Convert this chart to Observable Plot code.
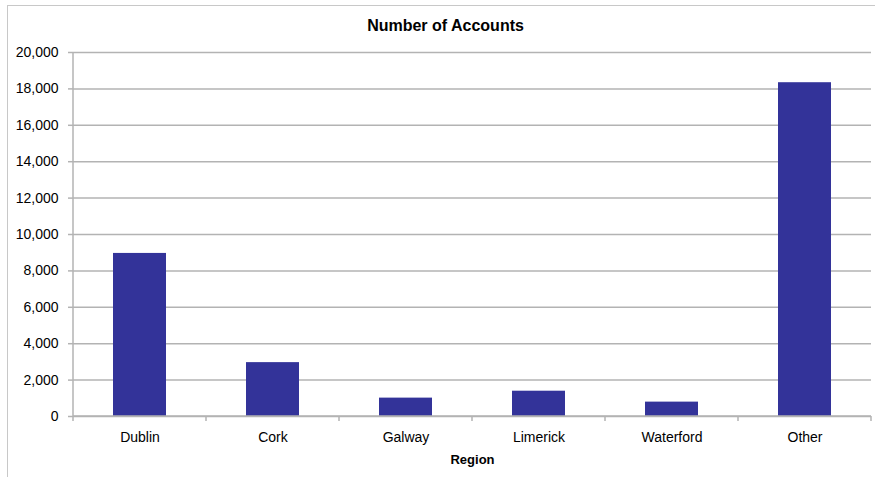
<!DOCTYPE html>
<html>
<head>
<meta charset="utf-8">
<script src="https://cdn.jsdelivr.net/npm/d3@7"></script>
<script src="https://cdn.jsdelivr.net/npm/@observablehq/plot@0.6"></script>
<style>
  html, body { margin: 0; padding: 0; background: #fff; }
  #wrap { position: relative; width: 875px; height: 477px; overflow: hidden; }
  #border { position: absolute; left: 7px; top: 5px; width: 900px; height: 520px; border-left: 1.5px solid #c8c8c8; border-top: 1.5px solid #c8c8c8; }
  #chart { position: absolute; left: 0; top: 0; }
</style>
</head>
<body>
<div id="wrap"><div id="border"></div><div id="chart"></div></div>
<script>
const title = "Number of Accounts";
const xLabel = "Region";
const regions = ["Dublin", "Cork", "Galway", "Limerick", "Waterford", "Other"];
const accounts = [8960, 2960, 1010, 1390, 790, 18340];
const yTicks = [0, 2000, 4000, 6000, 8000, 10000, 12000, 14000, 16000, 18000, 20000];

const data = regions.map((r, i) => ({region: r, value: accounts[i]}));
const fontFamily = "'Liberation Sans', Arial, sans-serif";
const axisColor = "#b3b3b3";

// custom mark: y-axis line, x-axis line and category boundary ticks
function axisLines(index, scales, values, dims) {
  const ns = "http://www.w3.org/2000/svg";
  const g = document.createElementNS(ns, "g");
  const x = scales.x, y = scales.y;
  const step = x(regions[1]) - x(regions[0]);
  const left = dims.marginLeft, right = dims.width - dims.marginRight;
  const y0 = y(0), yTop = y(yTicks[yTicks.length - 1]);
  const add = (x1, y1, x2, y2) => {
    const l = document.createElementNS(ns, "line");
    l.setAttribute("x1", x1); l.setAttribute("y1", y1);
    l.setAttribute("x2", x2); l.setAttribute("y2", y2);
    l.setAttribute("stroke", axisColor); l.setAttribute("stroke-width", 1.5);
    g.appendChild(l);
  };
  add(left, yTop, left, y0 + 0.75);
  add(left, y0, right, y0);
  for (let i = 0; i <= regions.length; i++) {
    const bx = left + i * step;
    add(bx, y0, bx, y0 + 5);
  }
  return g;
}

const plot = Plot.plot({
  width: 875,
  height: 477,
  marginLeft: 73,
  marginRight: 4,
  marginTop: 52,
  marginBottom: 61,
  style: {fontFamily, fontSize: "14px", color: "#000", background: "transparent"},
  x: {domain: regions, paddingInner: 0.6, paddingOuter: 0.3, label: null},
  y: {domain: [0, 20000], label: null},
  marks: [
    Plot.gridY(yTicks, {stroke: axisColor, strokeOpacity: 1, strokeWidth: 1.5}),
    Plot.axisY(yTicks, {tickSize: 5, tickPadding: 10, stroke: axisColor, strokeWidth: 1.5, tickFormat: d3.format(","), fontSize: 14, fill: "#000"}),
    Plot.axisX({tickSize: 0, tickPadding: 16, fontSize: 14, fill: "#000"}),
    Plot.barY(data, {x: "region", y: "value", fill: "#333399"}),
    axisLines,
    Plot.text([title], {frameAnchor: "top", lineAnchor: "middle", dy: -27, dx: -27, fontSize: 16, fontWeight: "bold", fill: "#000"}),
    Plot.text([xLabel], {frameAnchor: "bottom", lineAnchor: "middle", dy: 43, dx: 0, fontSize: 13, fontWeight: "bold", fill: "#000"})
  ]
});
document.getElementById("chart").appendChild(plot);
</script>
</body>
</html>
